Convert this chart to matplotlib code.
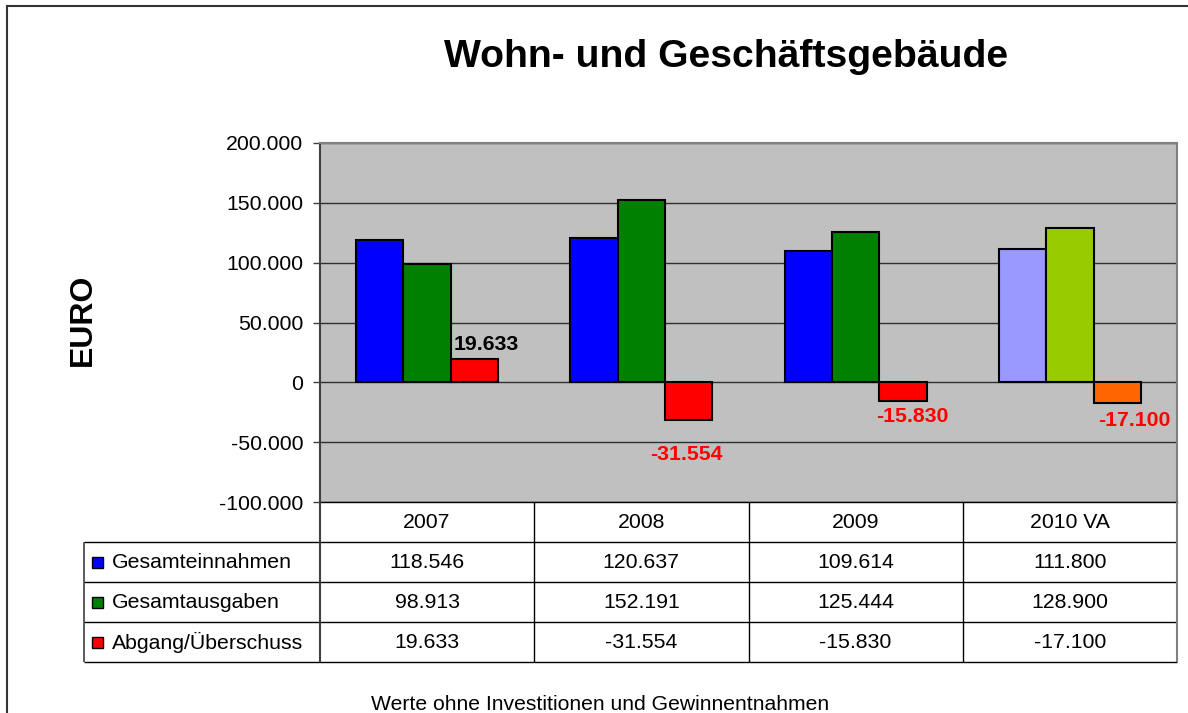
import matplotlib
matplotlib.use('Agg')
import matplotlib.pyplot as plt
from matplotlib.lines import Line2D
from matplotlib.patches import Rectangle

plt.rcParams['font.family'] = ['Liberation Sans', 'DejaVu Sans']

# Daten
years = ['2007', '2008', '2009', '2010 VA']
series = ['Gesamteinnahmen', 'Gesamtausgaben', 'Abgang/Überschuss']
einnahmen = [118546, 120637, 109614, 111800]
ausgaben = [98913, 152191, 125444, 128900]
saldo = [19633, -31554, -15830, -17100]

# Farben je Balken (2010 VA = Planwerte, andere Farben)
col_ein = ['#0000FF', '#0000FF', '#0000FF', '#9999FF']
col_aus = ['#008000', '#008000', '#008000', '#99CC00']
col_sal = ['#FF0000', '#FF0000', '#FF0000', '#FF6600']
key_colors = ['#0000FF', '#008000', '#FF0000']

# Beschriftungs-Versatz der Salden (Pixel, relativ zum Balkenende)
lab_dx = [12, -2, 9, 17]
lab_dy = [14, -34, -15, -18]
lab_col = ['black', 'red', 'red', 'red']

def de(v):
    return f'{v:,.0f}'.replace(',', '.')

W, H = 1188, 713
fig = plt.figure(figsize=(W / 100, H / 100), dpi=100, facecolor='white')

# Layout in Pixeln
px_l, px_r, px_t, px_b = 320, 1177, 143, 502
tab_l, tab_b = 84, 662

ax = fig.add_axes([px_l / W, 1 - px_b / H, (px_r - px_l) / W, (px_b - px_t) / H])
ax.set_facecolor('#C0C0C0')
ax.set_xlim(-0.5, 3.5)
ax.set_ylim(-100000, 200000)
ax.set_yticks(range(-100000, 200001, 50000))
ax.yaxis.set_major_formatter(plt.FuncFormatter(lambda y, _: de(y)))
ax.set_xticks([])
ax.tick_params(axis='y', length=5, width=1, color='#404040', pad=7, labelsize=15.3)
ax.grid(True, axis='y', color='#303030', lw=1.0, zorder=0)
ax.set_axisbelow(True)
for s in ['top', 'right']:
    ax.spines[s].set_color('#808080'); ax.spines[s].set_linewidth(1.5)
ax.spines['left'].set_color('#404040'); ax.spines['left'].set_linewidth(1.5)
ax.spines['bottom'].set_color('black'); ax.spines['bottom'].set_linewidth(1.0)

bw = 47.4 / ((px_r - px_l) / 4)
xs = list(range(len(years)))
for j, (vals, cols) in enumerate([(einnahmen, col_ein), (ausgaben, col_aus), (saldo, col_sal)]):
    ax.bar([x + (j - 1) * bw for x in xs], vals, width=bw, color=cols,
           edgecolor='black', linewidth=1.5, zorder=3)

for i, v in enumerate(saldo):
    ax.annotate(de(v), (xs[i] + bw, v), xytext=(lab_dx[i], lab_dy[i]),
                textcoords='offset pixels', ha='center', va='center',
                fontsize=15.3, fontweight='bold', color=lab_col[i], zorder=4)

ax.set_ylabel('EURO', fontsize=23, fontweight='bold', labelpad=0)
ax.yaxis.set_label_coords((98 - px_l) / (px_r - px_l), (px_b - 320) / (px_b - px_t))

fig.text(726 / W, 1 - 57 / H, 'Wohn- und Geschäftsgebäude', fontsize=28.2,
         fontweight='bold', ha='center', va='center')

# Datentabelle
tx = fig.add_axes([tab_l / W, 1 - tab_b / H, (px_r - tab_l) / W, (tab_b - px_b) / H])
x_left = -0.5 - (px_l - tab_l) / ((px_r - px_l) / 4)
tx.set_xlim(x_left, 3.5)
tx.set_ylim(4, 0)
tx.axis('off')
for y in [1, 2, 3, 4]:
    tx.hlines(y, x_left, 3.5, color='black', lw=1.0, clip_on=False)
for x in [0.5, 1.5, 2.5]:
    tx.vlines(x, 0, 4, color='black', lw=1.0, clip_on=False)
tx.vlines(-0.5, 0, 4, color='#404040', lw=1.5, clip_on=False)
tx.vlines(3.5, 0, 4, color='#808080', lw=1.5, clip_on=False)
tx.vlines(x_left, 1, 4, color='#404040', lw=1.2, clip_on=False)

for i, yr in enumerate(years):
    tx.text(xs[i], 0.5, yr, ha='center', va='center', fontsize=15.3)
for r, vals in enumerate([einnahmen, ausgaben, saldo]):
    for i, v in enumerate(vals):
        tx.text(xs[i], r + 1.5, de(v), ha='center', va='center', fontsize=15.3)

upx = (px_r - px_l) / 4   # Pixel je Kategorie
upy = (tab_b - px_b) / 4  # Pixel je Zeile
for r, name in enumerate(series):
    tx.add_patch(Rectangle((x_left + 8 / upx, r + 1.5 - 5.5 / upy), 11 / upx, 11 / upy,
                           facecolor=key_colors[r], edgecolor='black', lw=1.0, clip_on=False))
    tx.text(x_left + 28 / upx, r + 1.5, name, ha='left', va='center', fontsize=15.3)

fig.text(600 / W, 1 - 710 / H, 'Werte ohne Investitionen und Gewinnentnahmen',
         fontsize=15.2, ha='center', va='baseline')

# äußerer Rahmen
fig.add_artist(Line2D([6.5 / W, 6.5 / W], [1 - 6 / H, -0.1], color='#333333', lw=1.5))
fig.add_artist(Line2D([6.5 / W, 1.1], [1 - 6 / H, 1 - 6 / H], color='#333333', lw=1.5))

plt.savefig('out.png', dpi=100, facecolor='white')
plt.close()
